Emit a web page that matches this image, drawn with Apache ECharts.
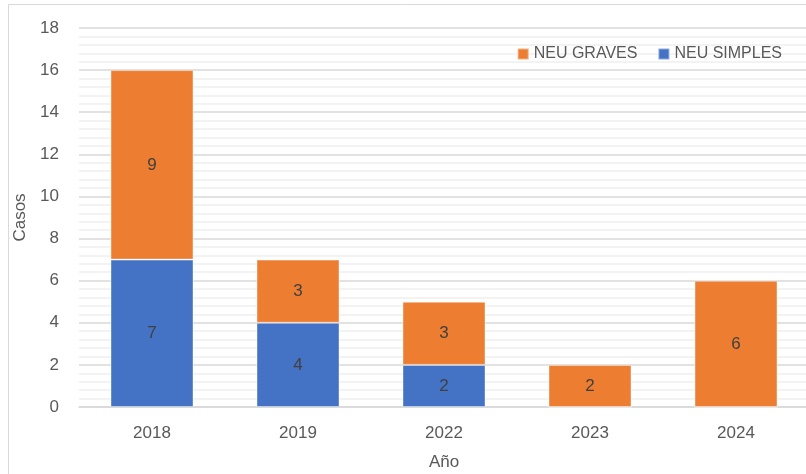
<!DOCTYPE html>
<html lang="es" style="height: 100%">
<head>
  <meta charset="utf-8">
</head>
<body style="height: 100%; margin: 0">
  <div id="container" style="width: 806px; height: 474px"></div>
  <script type="text/javascript" src="https://cdn.jsdelivr.net/npm/echarts@6/dist/echarts.min.js"></script>
  <script type="text/javascript">
    // datos del gráfico
    var years = ['2018', '2019', '2022', '2023', '2024'];
    var neuSimples = [7, 4, 2, 0, 0];
    var neuGraves = [9, 3, 3, 2, 6];

    var dom = document.getElementById('container');
    var myChart = echarts.init(dom, null, { renderer: 'canvas' });

    var font = '"Liberation Sans", Arial, sans-serif';
    var hideZero = function (p) { return p.value === 0 ? '' : p.value; };

    var option = {
      animation: false,
      textStyle: { fontFamily: font },
      graphic: [{
        type: 'rect',
        shape: { x: 8.5, y: 4.5, width: 900, height: 600 },
        style: { fill: 'none', stroke: '#d9d9d9', lineWidth: 1 }
      }],
      legend: {
        data: ['NEU GRAVES', 'NEU SIMPLES'],
        right: 19,
        top: 41,
        itemWidth: 11,
        itemHeight: 11,
        itemGap: 20,
        icon: 'rect',
        textStyle: { color: '#595959', fontSize: 16, fontFamily: font }
      },
      grid: { left: 79, right: -3, top: 28, bottom: 67, containLabel: false, outerBoundsMode: 'none' },
      xAxis: {
        type: 'category',
        data: years,
        name: 'Año',
        nameLocation: 'middle',
        nameGap: 47,
        nameTextStyle: { color: '#595959', fontSize: 17 },
        axisLine: { lineStyle: { color: '#d9d9d9', width: 1.5 } },
        axisTick: { show: false },
        axisLabel: { color: '#595959', fontSize: 17, margin: 18 }
      },
      yAxis: {
        type: 'value',
        min: 0,
        max: 18,
        interval: 2,
        name: 'Casos',
        nameLocation: 'middle',
        nameGap: 43,
        nameTextStyle: { color: '#595959', fontSize: 17 },
        axisLine: { show: false },
        axisTick: { show: false },
        axisLabel: { color: '#595959', fontSize: 17, margin: 20 },
        splitLine: { lineStyle: { color: '#d9d9d9', width: 1.5 } },
        minorTick: { show: false, splitNumber: 5 },
        minorSplitLine: { show: true, lineStyle: { color: '#efefef', width: 1.5 } }
      },
      series: [
        {
          name: 'NEU SIMPLES',
          type: 'bar',
          stack: 'casos',
          data: neuSimples,
          barWidth: 83,
          itemStyle: { color: '#4472c4', borderColor: 'rgba(255,255,255,0.4)', borderWidth: 1 },
          label: { show: true, position: 'inside', color: '#404040', fontSize: 17, formatter: hideZero }
        },
        {
          name: 'NEU GRAVES',
          type: 'bar',
          stack: 'casos',
          data: neuGraves,
          barWidth: 83,
          itemStyle: { color: '#ed7d31', borderColor: 'rgba(255,255,255,0.4)', borderWidth: 1 },
          label: { show: true, position: 'inside', color: '#404040', fontSize: 17, formatter: hideZero }
        }
      ]
    };

    myChart.setOption(option);
    window.addEventListener('resize', myChart.resize);
  </script>
</body>
</html>
